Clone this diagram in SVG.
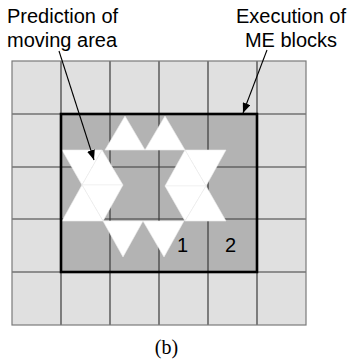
<svg xmlns="http://www.w3.org/2000/svg" width="352" height="362" viewBox="0 0 352 362">
<defs>
<style>
.lt{fill:#e0e0e0;stroke:none}
.dk{fill:#b3b3b3;stroke:none}
.gl{stroke:#3a3a3a;stroke-width:1.2;fill:none}
.tri{fill:#ffffff;stroke:#ececec;stroke-width:0.6}
.lbl{font-family:"Liberation Sans",Arial,sans-serif;font-size:20px;fill:#000}
.cap{font-family:"Liberation Serif","Times New Roman",serif;font-size:20px;fill:#000}
.arr{stroke:#000;stroke-width:1.1;fill:none}
</style>
<marker id="ah" viewBox="0 0 10 8" refX="10" refY="4" markerWidth="10" markerHeight="8" markerUnits="userSpaceOnUse" orient="auto">
<path d="M0,0 L10,4 L0,8 Z" fill="#000"/>
</marker>
</defs>
<rect x="0" y="0" width="352" height="362" fill="#fff"/>
<g id="grid">
<rect class="lt" x="12" y="61" width="294" height="264"/>
<rect class="dk" x="61" y="114" width="196" height="158"/>
<g class="gl">
<line x1="61" y1="61" x2="61" y2="325"/>
<line x1="110" y1="61" x2="110" y2="325"/>
<line x1="159" y1="61" x2="159" y2="325"/>
<line x1="208" y1="61" x2="208" y2="325"/>
<line x1="257" y1="61" x2="257" y2="325"/>
<line x1="12" y1="114" x2="306" y2="114"/>
<line x1="12" y1="167" x2="306" y2="167"/>
<line x1="12" y1="219" x2="306" y2="219"/>
<line x1="12" y1="272" x2="306" y2="272"/>
</g>
<rect x="12" y="61" width="294" height="264" fill="none" stroke="#7a7a7a" stroke-width="1.2"/>
</g>
<g id="moving-area">
<polygon class="tri" points="105,150 145,150 125,116"/>
<polygon class="tri" points="145,150 185,150 165,116"/>
<polygon class="tri" points="62,150 102,150 82,185"/>
<polygon class="tri" points="82,185 102,150 123,185"/>
<polygon class="tri" points="82,185 123,185 103,221"/>
<polygon class="tri" points="62,221 82,185 103,221"/>
<polygon class="tri" points="185,150 226,150 206,186"/>
<polygon class="tri" points="165,186 185,150 206,186"/>
<polygon class="tri" points="165,186 206,186 185,221"/>
<polygon class="tri" points="185,221 206,186 226,221"/>
<polygon class="tri" points="103,221 143,221 123,257"/>
<polygon class="tri" points="143,221 184,221 164,257"/>
</g>
<g id="me-blocks">
<rect x="61" y="114" width="196" height="158" fill="none" stroke="#000" stroke-width="2.6"/>
<text class="lbl" x="182.5" y="252" text-anchor="middle">1</text>
<text class="lbl" x="230.5" y="252" text-anchor="middle">2</text>
</g>
<g id="label-prediction">
<text class="lbl" x="7" y="23">Prediction of</text>
<text class="lbl" x="7" y="47">moving area</text>
</g>
<g id="label-execution">
<text class="lbl" x="291" y="23" text-anchor="middle">Execution of</text>
<text class="lbl" x="291" y="47" text-anchor="middle">ME blocks</text>
</g>
<g id="connectors">
<line class="arr" x1="59" y1="51" x2="94" y2="160" marker-end="url(#ah)"/>
<line class="arr" x1="267" y1="50" x2="243" y2="113" marker-end="url(#ah)"/>
</g>
<text class="cap" x="166.5" y="354" text-anchor="middle">(b)</text>
</svg>
